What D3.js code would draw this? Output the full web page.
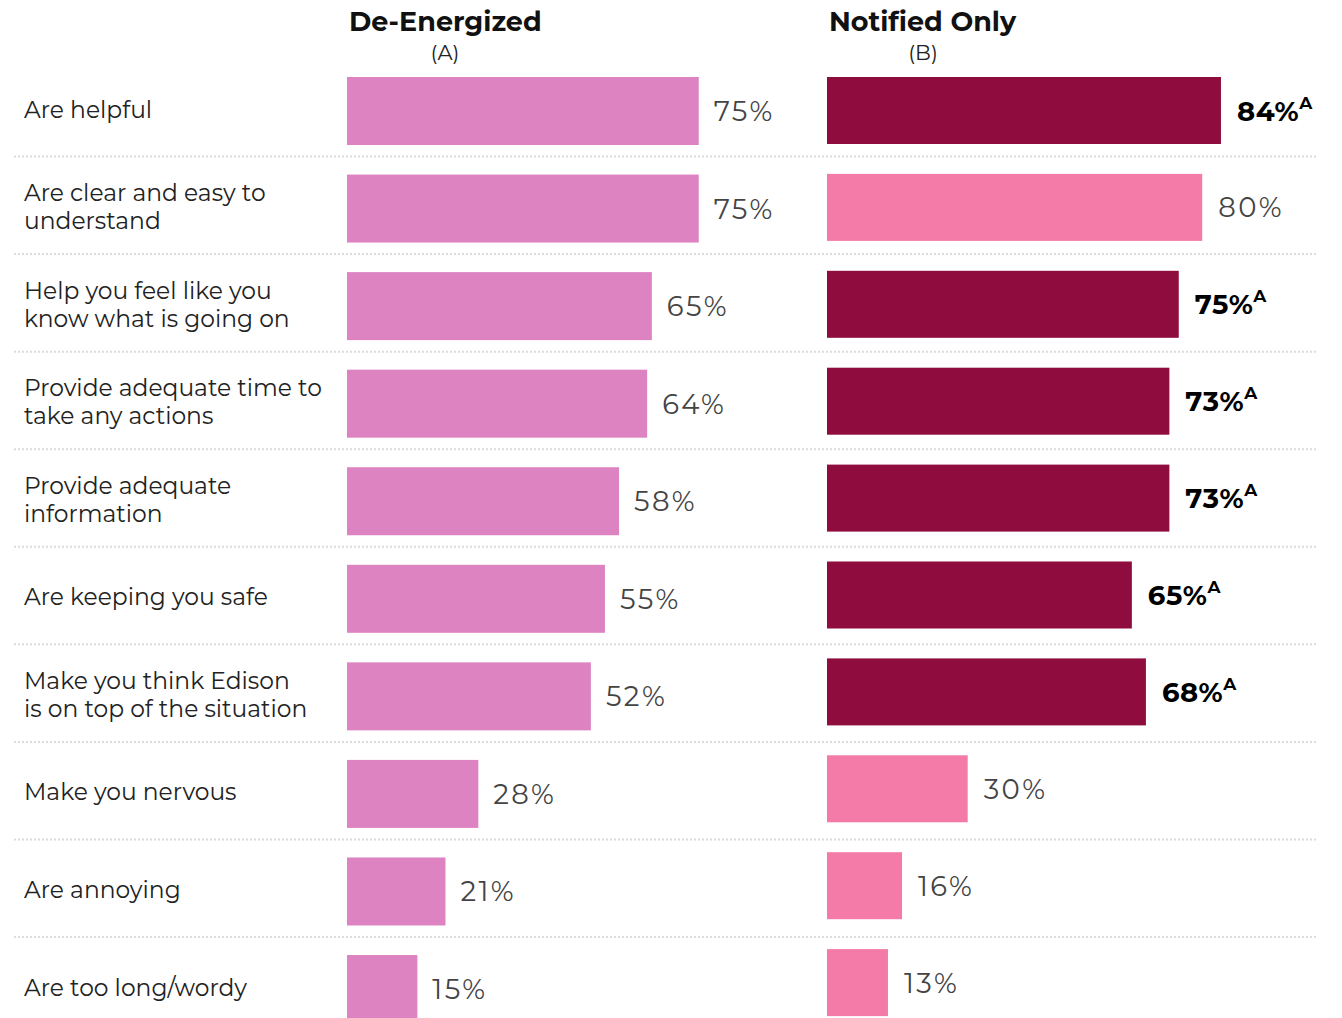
<!DOCTYPE html>
<html>
<head>
<meta charset="utf-8">
<script src="https://cdn.jsdelivr.net/npm/d3@7/dist/d3.min.js"></script>
<style>
  html, body { margin: 0; padding: 0; background: #fff; }
  svg { display: block; font-family: "Montserrat", "DejaVu Sans", sans-serif; }
</style>
</head>
<body>
<svg id="chart" width="1342" height="1018"></svg>
<script>
const categories = [
  "Are helpful",
  "Are clear and easy to|understand",
  "Help you feel like you|know what is going on",
  "Provide adequate time to|take any actions",
  "Provide adequate|information",
  "Are keeping you safe",
  "Make you think Edison|is on top of the situation",
  "Make you nervous",
  "Are annoying",
  "Are too long/wordy"
];
const deEnergized = [75, 75, 65, 64, 58, 55, 52, 28, 21, 15];
const notifiedOnly = [84, 80, 75, 73, 73, 65, 68, 30, 16, 13];
const sigVsA = [true, false, true, true, true, true, true, false, false, false];
const panelTitles = ["De-Energized", "Notified Only"];
const panelLetters = ["(A)", "(B)"];

const svg = d3.select("#chart");
const n = categories.length;

// band scales (panel B in the source is drawn with a slightly tighter pitch)
const stepA = 97.56, stepB = 96.9;
const yA = d3.scaleBand().domain(d3.range(n))
  .range([77 - (stepA - 68) / 2, 77 - (stepA - 68) / 2 + stepA * n])
  .paddingInner((stepA - 68) / stepA).paddingOuter(((stepA - 68) / stepA) / 2);
const yB = d3.scaleBand().domain(d3.range(n))
  .range([77 - (stepB - 67) / 2, 77 - (stepB - 67) / 2 + stepB * n])
  .paddingInner((stepB - 67) / stepB).paddingOuter(((stepB - 67) / stepB) / 2);

const x = d3.scaleLinear().domain([0, 100]).range([0, 469]);
const panelX = [347, 827];
const colA = "#DE83C2", colBdark = "#8E0C3E", colBlight = "#F47BA8";

// separators
const sepY = d3.range(1, n).map(i => yA(i) - 18);
svg.append("g").selectAll("line").data(sepY).join("line")
  .attr("x1", 14).attr("x2", 1318)
  .attr("y1", d => d).attr("y2", d => d)
  .attr("stroke", "#dcdcdc").attr("stroke-width", 2)
  .attr("stroke-dasharray", "2,2");

// category labels
svg.append("g").selectAll("text").data(categories).join("text")
  .attr("x", 24)
  .attr("font-size", 23.4)
  .attr("fill", "#222")
  .attr("y", (d, i) => yA(i) + yA.bandwidth() / 2)
  .each(function(d) {
    const lines = d.split("|");
    const t = d3.select(this);
    const lh = 28;
    const off = -(lines.length - 1) * lh / 2 + 6.5;
    lines.forEach((ln, j) => {
      t.append("tspan").attr("x", 24)
        .attr("dy", j === 0 ? off : lh)
        .text(ln);
    });
  });

// titles
panelTitles.forEach((t, p) => {
  svg.append("text").attr("x", panelX[p] + 2).attr("y", 31)
    .attr("font-size", 27).attr("font-weight", "bold").attr("fill", "#111")
    .text(t);
  svg.append("text").attr("x", panelX[p] + (p === 0 ? 98 : 96)).attr("y", 60)
    .attr("text-anchor", "middle")
    .attr("font-size", 21).attr("fill", "#222")
    .text(panelLetters[p]);
});

// panel A bars
const gA = svg.append("g").attr("transform", `translate(${panelX[0]},0)`);
gA.selectAll("rect").data(deEnergized).join("rect")
  .attr("x", 0).attr("y", (d, i) => yA(i))
  .attr("width", d => x(d)).attr("height", yA.bandwidth())
  .attr("fill", colA);
gA.selectAll("text").data(deEnergized).join("text")
  .attr("x", d => x(d) + 15)
  .attr("y", (d, i) => yA(i) + yA.bandwidth() / 2 + 10)
  .attr("font-size", 27.5).attr("letter-spacing", 2.4).attr("fill", "#444")
  .text(d => d + "%");

// panel B bars
const gB = svg.append("g").attr("transform", `translate(${panelX[1]},0)`);
gB.selectAll("rect").data(notifiedOnly).join("rect")
  .attr("x", 0).attr("y", (d, i) => yB(i))
  .attr("width", d => x(d)).attr("height", yB.bandwidth())
  .attr("fill", (d, i) => sigVsA[i] ? colBdark : colBlight);
gB.selectAll("text").data(notifiedOnly).join("text")
  .attr("x", d => x(d) + 16)
  .attr("y", (d, i) => yB(i) + yB.bandwidth() / 2 + 10)
  .attr("font-size", 27.5)
  .attr("letter-spacing", (d, i) => sigVsA[i] ? 0.6 : 2.4)
  .attr("fill", (d, i) => sigVsA[i] ? "#000" : "#444")
  .attr("font-weight", (d, i) => sigVsA[i] ? "bold" : "normal")
  .each(function(d, i) {
    const t = d3.select(this);
    t.append("tspan").text(d + "%");
    if (sigVsA[i]) {
      t.append("tspan").attr("font-size", 17).attr("dy", -12).text("A");
    }
  });
</script>
</body>
</html>
